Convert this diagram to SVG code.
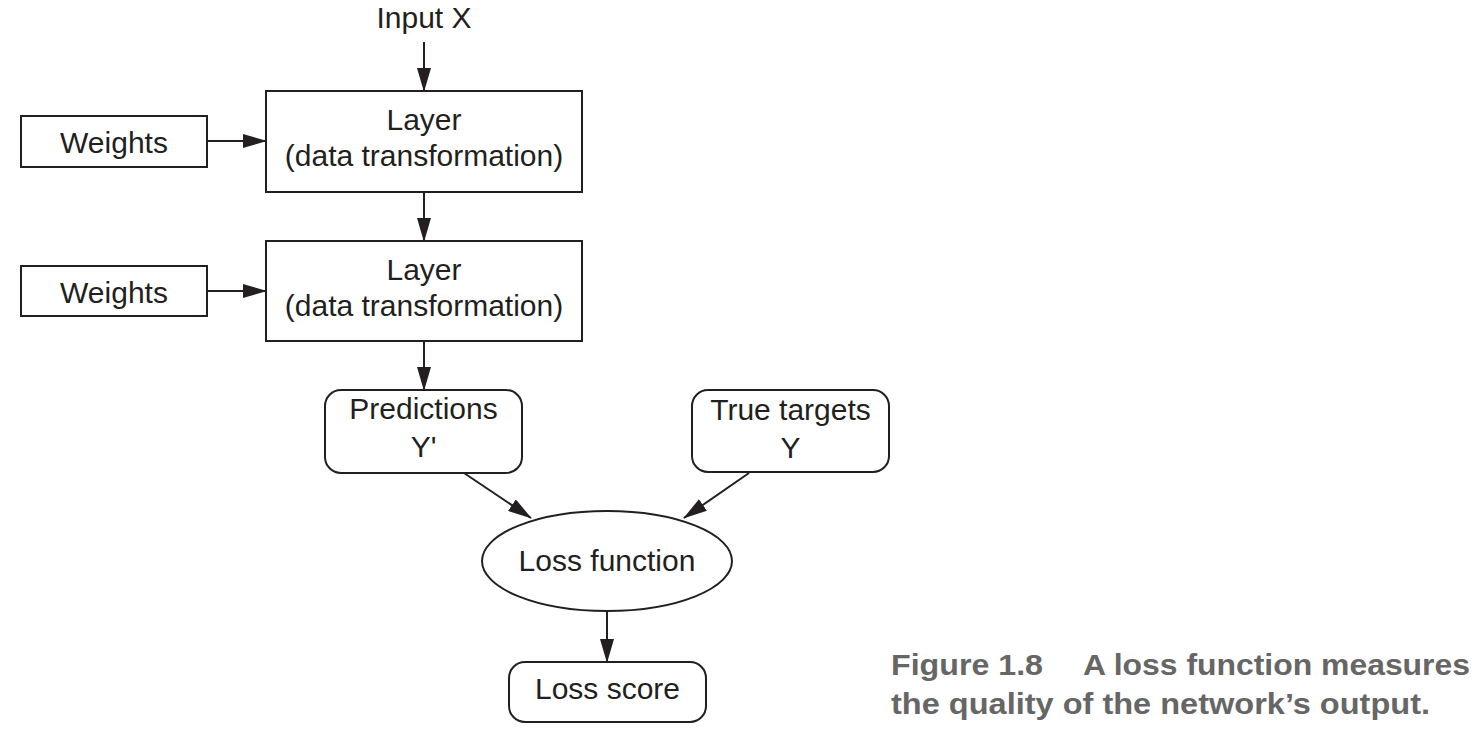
<svg xmlns="http://www.w3.org/2000/svg" width="1475" height="730" viewBox="0 0 1475 730">
  <style>
    .box { fill: #ffffff; stroke: #231f20; stroke-width: 2; }
    .lbl { font-family: "Liberation Sans", Arial, sans-serif; font-size: 30px; fill: #231f20; text-anchor: middle; }
    .edge { stroke: #231f20; stroke-width: 2; fill: none; marker-end: url(#arrow); }
    .cap { font-family: "Liberation Sans", Arial, sans-serif; font-size: 30px; font-weight: bold; fill: #666666; }
  </style>
  <defs>
    <marker id="arrow" markerUnits="userSpaceOnUse" markerWidth="24" markerHeight="14" viewBox="0 0 24 14" refX="23" refY="7" orient="auto">
      <path d="M0,0 L24,7 L0,14 Z" fill="#231f20"/>
    </marker>
  </defs>
  <rect width="1475" height="730" fill="#ffffff"/>

  <g id="connectors">
    <line class="edge" x1="424" y1="42" x2="424" y2="91"/>
    <line class="edge" x1="207" y1="141" x2="266" y2="141"/>
    <line class="edge" x1="424" y1="192" x2="424" y2="241"/>
    <line class="edge" x1="207" y1="291" x2="266" y2="291"/>
    <line class="edge" x1="424" y1="341" x2="424" y2="390"/>
    <line class="edge" x1="464" y1="473" x2="531" y2="518"/>
    <line class="edge" x1="749" y1="473" x2="684" y2="518"/>
    <line class="edge" x1="607" y1="611" x2="607" y2="662"/>
  </g>

  <g id="input">
    <text class="lbl" x="424" y="28">Input X</text>
  </g>

  <g id="layer1">
    <rect class="box" x="266" y="91" width="316" height="101"/>
    <text class="lbl" x="424" y="130">Layer</text>
    <text class="lbl" x="424" y="166">(data transformation)</text>
  </g>

  <g id="weights1">
    <rect class="box" x="21" y="116" width="186" height="51"/>
    <text class="lbl" x="114" y="153">Weights</text>
  </g>

  <g id="layer2">
    <rect class="box" x="266" y="241" width="316" height="100"/>
    <text class="lbl" x="424" y="280">Layer</text>
    <text class="lbl" x="424" y="316">(data transformation)</text>
  </g>

  <g id="weights2">
    <rect class="box" x="21" y="266" width="186" height="50"/>
    <text class="lbl" x="114" y="303">Weights</text>
  </g>

  <g id="predictions">
    <rect class="box" x="325" y="390" width="197" height="83" rx="16" ry="16"/>
    <text class="lbl" x="423.5" y="419">Predictions</text>
    <text class="lbl" x="423.5" y="457">Y'</text>
  </g>

  <g id="targets">
    <rect class="box" x="692" y="390" width="197" height="82" rx="16" ry="16"/>
    <text class="lbl" x="790.5" y="420">True targets</text>
    <text class="lbl" x="790.5" y="458">Y</text>
  </g>

  <g id="loss-function">
    <ellipse class="box" cx="607" cy="561" rx="125" ry="50"/>
    <text class="lbl" x="607" y="571">Loss function</text>
  </g>

  <g id="loss-score">
    <rect class="box" x="509" y="662" width="197" height="60" rx="16" ry="16"/>
    <text class="lbl" x="607.5" y="699">Loss score</text>
  </g>

  <g id="caption">
    <text class="cap" x="891" y="675" textLength="152" lengthAdjust="spacingAndGlyphs">Figure 1.8</text>
    <text class="cap" x="1083" y="675" textLength="387" lengthAdjust="spacingAndGlyphs">A loss function measures</text>
    <text class="cap" x="891" y="714" textLength="539" lengthAdjust="spacingAndGlyphs">the quality of the network’s output.</text>
  </g>
</svg>
